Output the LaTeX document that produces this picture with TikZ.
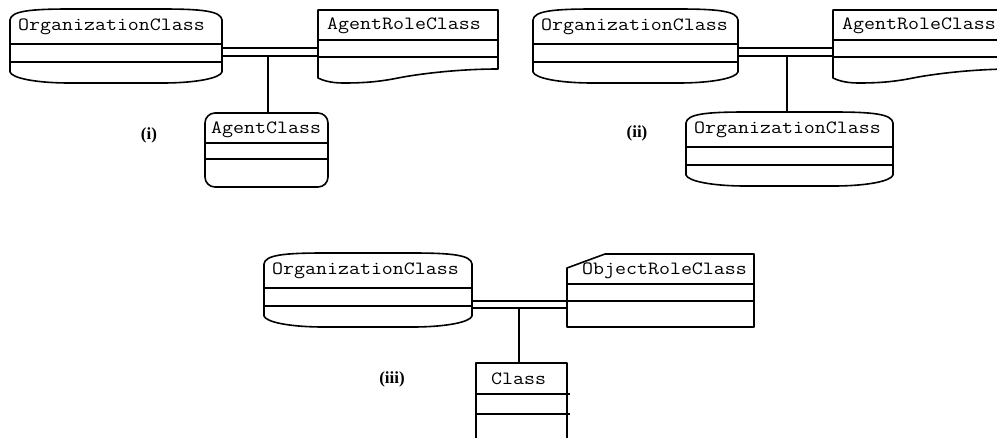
\documentclass[tikz,border=0pt]{standalone}
\usepackage{fontspec}
\setmainfont{Liberation Serif}
\newfontfamily\umlfont[FakeStretch=1.14]{Latin Modern Mono}
% organization class shape: #1 left, #2 right, #3 top, #4 node name, #5 text
\newcommand\OrgBox[5]{%
  \draw[shapeline] (#1,#3+11) .. controls (#1+1,#3+2) and (#1+20,#3) .. (#1+60,#3)
    -- (#2-60,#3) .. controls (#2-20,#3) and (#2-1,#3+2) .. (#2,#3+11)
    -- (#2,#3+63) .. controls (#2-2,#3+69) and (#2-25,#3+74) .. (#2-60,#3+74)
    -- (#1+60,#3+74) .. controls (#1+25,#3+74) and (#1+2,#3+69) .. (#1,#3+63) -- cycle;
  \draw[shapeline] (#1,#3+35) -- (#2,#3+35) (#1,#3+53) -- (#2,#3+53);
  \node[cname] (#4) at (#1+8,#3+18) {#5};
}
% agent role class shape: #1 left, #2 node name
\newcommand\RoleBox[2]{%
  \draw[shapeline] (#1,78) -- (#1,10) -- (#1+180,10) -- (#1+180,69)
    .. controls (#1+140,69) and (#1+100,74) .. (#1+80,78)
    .. controls (#1+60,82) and (#1+45,83) .. (#1+25,83)
    .. controls (#1+12,83) and (#1+4,80) .. (#1,78) -- cycle;
  \draw[shapeline] (#1,40) -- (#1+180,40) (#1,57) -- (#1+180,57);
  \node[cname] (#2) at (#1+9,26) {AgentRoleClass};
}
\begin{document}
\begin{tikzpicture}[x=1pt,y=-1pt,
  shapeline/.style={line width=1.6pt, line join=round},
  assoc/.style={line width=1.4pt},
  cname/.style={anchor=west, inner sep=0pt, font=\umlfont\fontsize{18.7}{20}\selectfont},
  plabel/.style={inner sep=0pt, font=\bfseries\fontsize{17}{19}\selectfont}]
\useasboundingbox (0,0) rectangle (997,437);
\clip (0,0) rectangle (997,437);

% ---------- (i) ----------
\OrgBox{10}{222}{9}{orgA}{OrganizationClass}
\RoleBox{318}{roleA}
\draw[shapeline] (205,123) arc[start angle=180,end angle=270,radius=10] -- (318,113)
  arc[start angle=270,end angle=360,radius=10] -- (328,177)
  arc[start angle=0,end angle=90,radius=10] -- (215,187)
  arc[start angle=90,end angle=180,radius=10] -- cycle;
\draw[shapeline] (205,143) -- (328,143) (205,159) -- (328,159);
\node[cname] (agentA) at (211,130) {AgentClass};
\node[plabel] (labA) at (149,135) {(i)};
\coordinate (a1s) at (221,48); \coordinate (a1e) at (318,48);
\coordinate (a2s) at (221,56); \coordinate (a2e) at (318,56);
\coordinate (aj) at (268,56); \coordinate (ad) at (268,113);
\draw[assoc] (a1s) -- (a1e) (a2s) -- (a2e) (aj) -- (ad);

% ---------- (ii) ----------
\OrgBox{533}{738}{9}{orgB}{OrganizationClass}
\RoleBox{833}{roleB}
\OrgBox{686}{893}{112}{orgC}{OrganizationClass}
\node[plabel] (labB) at (637,133) {(ii)};
\coordinate (b1s) at (738,48); \coordinate (b1e) at (833,48);
\coordinate (b2s) at (738,56); \coordinate (b2e) at (833,56);
\coordinate (bj) at (787,56); \coordinate (bd) at (787,112);
\draw[assoc] (b1s) -- (b1e) (b2s) -- (b2e) (bj) -- (bd);

% ---------- (iii) ----------
\OrgBox{264}{472}{253}{orgD}{OrganizationClass}
\draw[shapeline] (567,268) -- (605,254) -- (754,254) -- (754,327) -- (567,327) -- cycle;
\draw[shapeline] (567,284) -- (754,284) (567,301) -- (754,301);
\node[cname] (objrole) at (582,271) {ObjectRoleClass};
\draw[shapeline] (476,450) -- (476,363) -- (567,363) -- (567,450);
\draw[shapeline] (476,394) -- (570,394) (476,414) -- (570,414);
\node[cname] (cls) at (491,379) {Class};
\node[plabel] (labC) at (392,379) {(iii)};
\coordinate (c1s) at (471,301); \coordinate (c1e) at (567,301);
\coordinate (c2s) at (471,308); \coordinate (c2e) at (567,308);
\coordinate (cj) at (519,308); \coordinate (cd) at (519,363);
\draw[assoc] (c1s) -- (c1e) (c2s) -- (c2e) (cj) -- (cd);
\end{tikzpicture}
\end{document}
